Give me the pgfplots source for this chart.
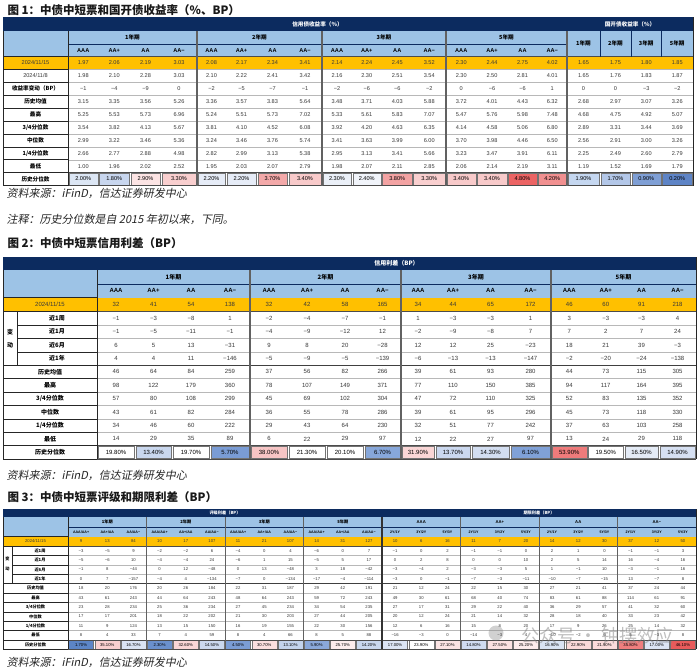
\documentclass[border=0pt]{standalone}
\usepackage{fontspec}
\setmainfont{Noto Sans CJK SC}
\newfontfamily\numf{Liberation Sans}
\newfontfamily\srcf{Noto Sans CJK SC}[FakeSlant=0.2]
\usepackage{pgfplots}
\usepackage{pgfplotstable}
\pgfplotsset{compat=1.18}

\definecolor{navy}{HTML}{0C2B5F}
\definecolor{hdr}{HTML}{9DC3E6}
\definecolor{org}{HTML}{FFC000}
\definecolor{tc}{HTML}{383838}
% table 1 percentile colours
\definecolor{a1}{HTML}{DCE6F4}\definecolor{a2}{HTML}{C8D6EE}\definecolor{a3}{HTML}{FCE4E4}\definecolor{a4}{HTML}{F9CFCF}
\definecolor{a5}{HTML}{E6ECF7}\definecolor{a6}{HTML}{E6ECF7}\definecolor{a7}{HTML}{F3A9A9}\definecolor{a8}{HTML}{F8CACA}
\definecolor{a9}{HTML}{EBF0F8}\definecolor{a10}{HTML}{F1F4FA}\definecolor{a11}{HTML}{F3A3A3}\definecolor{a12}{HTML}{F9CFCF}
\definecolor{a13}{HTML}{F8CACA}\definecolor{a14}{HTML}{F8CACA}\definecolor{a15}{HTML}{EC6464}\definecolor{a16}{HTML}{F19090}
\definecolor{a17}{HTML}{C5D7F0}\definecolor{a18}{HTML}{B3C7E8}\definecolor{a19}{HTML}{7F9FD5}\definecolor{a20}{HTML}{5E84C6}
% table 2
\definecolor{b1}{HTML}{FFFFFF}\definecolor{b2}{HTML}{C9D7EE}\definecolor{b3}{HTML}{FFFFFF}\definecolor{b4}{HTML}{7A9CD5}
\definecolor{b5}{HTML}{F7C5C5}\definecolor{b6}{HTML}{FFFFFF}\definecolor{b7}{HTML}{FFFFFF}\definecolor{b8}{HTML}{87A7DA}
\definecolor{b9}{HTML}{FAD6D6}\definecolor{b10}{HTML}{CBD8EF}\definecolor{b11}{HTML}{D3DEF1}\definecolor{b12}{HTML}{80A1D7}
\definecolor{b13}{HTML}{EF7B7B}\definecolor{b14}{HTML}{FFFFFF}\definecolor{b15}{HTML}{E4EBF6}\definecolor{b16}{HTML}{D6E0F2}
% table 3
\definecolor{c1}{HTML}{5C85C6}\definecolor{c2}{HTML}{F8CFCF}\definecolor{c3}{HTML}{D9E3F3}\definecolor{c4}{HTML}{6A90CC}
\definecolor{c5}{HTML}{F9D6D6}\definecolor{c6}{HTML}{CBD8EE}\definecolor{c7}{HTML}{7B9DD5}\definecolor{c8}{HTML}{FBDFDF}
\definecolor{c9}{HTML}{C3D3EC}\definecolor{c10}{HTML}{8AA8DA}\definecolor{c11}{HTML}{FDEDED}\definecolor{c12}{HTML}{CAD8EE}
\definecolor{c13}{HTML}{DCE5F4}\definecolor{c14}{HTML}{FFFFFF}\definecolor{c15}{HTML}{FBE4E4}\definecolor{c16}{HTML}{D0DCF0}
\definecolor{c17}{HTML}{FBE2E2}\definecolor{c18}{HTML}{FCECEC}\definecolor{c19}{HTML}{D9E3F3}\definecolor{c20}{HTML}{FAD9D9}
\definecolor{c21}{HTML}{FBDCDC}\definecolor{c22}{HTML}{EF7E7E}\definecolor{c23}{HTML}{DCE5F4}\definecolor{c24}{HTML}{E85B5B}

\newcommand\fA{\numf\fontsize{5.6}{6.5}\selectfont}
\newcommand\fAh{\bfseries\fontsize{5.6}{6.5}\selectfont}
\newcommand\fAr{\numf\bfseries\fontsize{5.6}{6.5}\selectfont}
\newcommand\fB{\numf\fontsize{6}{7}\selectfont}
\newcommand\fBh{\bfseries\fontsize{6}{7}\selectfont}
\newcommand\fBr{\numf\bfseries\fontsize{6}{7}\selectfont}
\newcommand\fC{\numf\fontsize{4.2}{5}\selectfont}
\newcommand\fCh{\bfseries\fontsize{4.2}{5}\selectfont}
\newcommand\fCr{\numf\bfseries\fontsize{4.2}{5}\selectfont}
\newcommand\fCs{\numf\bfseries\fontsize{3.6}{4.2}\selectfont}

\pgfplotsset{
  txt/.style 2 args={only marks, mark=none, point meta=explicit symbolic, nodes near coords,
    every node near coord/.style={anchor=center, inner sep=0pt, outer sep=0pt, font=#1, text=#2}},
}
\tikzset{
  gl/.style={draw=black!28, line width=0.4pt},
  bl/.style={draw=black!85, line width=0.5pt},
  tk/.style={draw=black!62, line width=1.1pt},
}
\newcommand\trow[4]{\addplot[txt={#1}{tc}] table[x=x, y expr=#2, meta=#3] {#4};}
\newcommand\prow[4]{\addplot[txt={#1}{black}, nodes near coords={\pgfplotspointmeta\%}] table[x=x, y expr=#2, meta=#3] {#4};}
\newcommand\pc[5]{\addplot[draw=black!55, line width=0.3pt, fill=#5] coordinates {(#1,#3) (#2,#3) (#2,#4) (#1,#4)} -- cycle;}

% Table 1: yields (%) -- one line per column of the chart
\pgfplotstableread{
x      d1   d2   chg  mean max  q3   med  q1   min  pct
83.25  1.97 1.98 −1   3.15 5.25 3.54 2.99 2.66 1.00 2.00
114.25 2.06 2.10 −4   3.35 5.53 3.82 3.22 2.77 1.96 1.80
145.5  2.19 2.28 −9   3.56 5.73 4.13 3.46 2.88 2.02 2.90
179    3.03 3.03 0    5.26 6.96 5.67 5.36 4.98 2.52 3.30
211.5  2.08 2.10 −2   3.36 5.24 3.81 3.24 2.82 1.95 2.20
241.5  2.17 2.22 −5   3.57 5.51 4.10 3.46 2.99 2.03 2.20
272.5  2.34 2.41 −7   3.83 5.73 4.52 3.76 3.13 2.07 3.70
305    3.41 3.42 −1   5.64 7.02 6.08 5.74 5.38 2.79 3.40
337    2.14 2.16 −2   3.48 5.33 3.92 3.41 2.95 1.98 2.30
366.75 2.24 2.30 −6   3.71 5.61 4.20 3.63 3.13 2.07 2.40
397.25 2.45 2.51 −6   4.03 5.83 4.63 3.99 3.41 2.11 3.80
429.25 3.52 3.54 −2   5.88 7.07 6.35 6.00 5.66 2.85 3.30
461.25 2.30 2.30 0    3.72 5.47 4.14 3.70 3.23 2.06 3.40
492    2.44 2.50 −6   4.01 5.76 4.58 3.98 3.47 2.14 3.40
522.5  2.75 2.81 −6   4.43 5.98 5.06 4.46 3.91 2.19 4.80
552.25 4.02 4.01 1    6.32 7.48 6.80 6.50 6.11 3.11 4.20
583.5  1.65 1.65 0    2.68 4.68 2.89 2.56 2.25 1.19 1.90
615.5  1.75 1.76 0    2.97 4.75 3.31 2.91 2.49 1.52 1.70
646.25 1.80 1.83 −3   3.07 4.92 3.44 3.00 2.60 1.69 0.90
677.25 1.85 1.87 −2   3.26 5.07 3.69 3.26 2.79 1.79 0.20
}\tA

% Table 2: credit spreads (BP)
\pgfplotstableread{
x      d   w1  m1  m6  y1   mean max q3  med q1  min pct
116    32  −1  −1  6   4    46   98  57  43  34  14  19.80
153.5  41  −3  −5  5   4    64   122 80  61  46  29  13.40
191    54  −8  −11 13  11   84   179 108 82  60  35  19.70
230    138 1   −1  −31 −146 259  360 299 284 222 89  5.70
269    32  −2  −4  9   −5   37   78  45  36  29  6   38.00
307    42  −4  −9  8   −9   56   107 69  55  43  22  21.30
345    58  −7  −12 20  −5   82   149 102 78  64  29  20.10
382.5  165 −1  12  −28 −139 266  371 304 286 230 97  6.70
418    34  1   −2  12  −6   39   77  47  39  32  12  31.90
453    44  −3  −9  12  −13  61   110 72  61  51  22  13.70
490.5  65  −3  −8  25  −13  93   150 110 95  77  27  14.30
530.5  172 1   7   −23 −147 280  385 325 296 242 97  6.10
569.25 46  3   7   18  −2   44   94  52  45  37  13  53.90
605.75 60  −3  2   21  −20  73   117 83  73  63  24  19.50
641.5  91  −3  7   39  −24  115  164 135 118 103 29  16.50
677.5  218 4   24  −3  −138 305  395 352 330 258 118 14.90
}\tB

% Table 3: rating and term spreads (BP)
\pgfplotstableread{
x      d   w1  m1  m6  y1   mean max q3  med q1  min pct
81.08  9   −3  −5  −1  0    18   43  23  17  11  8   1.70
107.25 13  −5  −6  8   7    20   61  28  17  9   4   35.10
133.42 84  9   10  −44 −157 176  243 234 201 124 33  16.70
159.58 10  −2  −4  0   −4   20   44  25  18  13  7   2.30
185.75 17  −2  −4  12  4    26   64  36  22  15  4   32.60
211.92 107 6   24  −48 −134 184  243 234 202 150 59  14.50
238.08 11  −4  −6  0   −7   22   48  27  21  16  8   4.50
264.25 21  0   1   13  0    31   64  45  30  19  4   30.70
290.42 107 4   15  −48 −134 187  243 234 203 155 66  13.10
316.58 14  −6  −5  3   −17  29   59  34  27  22  8   5.90
342.75 31  0   5   18  −4   42   72  54  44  30  5   25.70
368.92 127 7   17  −42 −114 191  243 235 205 156 88  14.20
395.08 10  −1  0   −3  −3   21   49  27  20  12  −16 17.00
421.25 6   0   2   −4  0    12   30  17  12  6   −3  23.90
447.42 16  2   8   2   −1   24   61  31  24  16  0   27.10
473.58 11  −1  0   −3  −7   22   68  29  21  15  −14 14.80
499.75 7   −1  0   −3  −3   15   40  22  14  8   −3  27.50
525.92 20  0   10  5   −11  30   74  40  32  20  4   25.20
552.08 14  2   2   1   −10  27   83  36  28  17  −10 16.90
578.25 12  1   5   −1  −7   21   61  29  18  9   −2  22.90
604.42 30  0   14  10  −15  41   88  57  40  26  6   21.90
630.58 37  −1  16  −3  13   37   114 41  33  25  5   35.80
656.75 12  −1  −4  −1  −7   24   61  32  23  14  −3  17.00
682.92 50  3   16  16  8    44   91  60  42  32  8   46.10
}\tC

\begin{document}
\begin{tikzpicture}
\begin{axis}[scale only axis, width=700pt, height=668pt,
  xmin=0, xmax=700, ymin=0, ymax=668, y dir=reverse,
  hide axis, clip=false]
\fill[white] (axis cs:0,0) rectangle (axis cs:700,668);

% ---------------- titles and sources
\node[anchor=west, font=\bfseries\fontsize{11.5}{13}\selectfont, text=black!90] at (axis cs:4,10.5) {图 1：中债中短票和国开债收益率（\%、BP）};
\node[anchor=west, font=\srcf\fontsize{11}{13}\selectfont, text=black!85] at (axis cs:3,193) {资料来源：iFinD，信达证券研发中心};
\node[anchor=west, font=\srcf\fontsize{11}{13}\selectfont, text=black!85] at (axis cs:3,219.5) {注释：历史分位数是自 2015 年初以来，下同。};
\node[anchor=west, font=\bfseries\fontsize{11.5}{13}\selectfont, text=black!90] at (axis cs:4,243) {图 2：中债中短票信用利差（BP）};
\node[anchor=west, font=\srcf\fontsize{11}{13}\selectfont, text=black!85] at (axis cs:3,475) {资料来源：iFinD，信达证券研发中心};
\node[anchor=west, font=\bfseries\fontsize{11.5}{13}\selectfont, text=black!90] at (axis cs:4,497) {图 3：中债中短票评级和期限利差（BP）};
\node[anchor=west, font=\srcf\fontsize{11}{13}\selectfont, text=black!85] at (axis cs:3,662) {资料来源：iFinD，信达证券研发中心};

% ================= TABLE 1
\fill[navy] (axis cs:3,17) rectangle (axis cs:693,31);
\fill[hdr] (axis cs:3,31) rectangle (axis cs:693,56.5);
\fill[org] (axis cs:3,56.5) rectangle (axis cs:693,69.4);
\pc{68.8}{97.7}{173.3}{184.8}{a1}\pc{99.3}{129.2}{173.3}{184.8}{a2}\pc{130.8}{160.2}{173.3}{184.8}{a3}\pc{161.8}{196.2}{173.3}{184.8}{a4}
\pc{197.8}{225.2}{173.3}{184.8}{a5}\pc{226.8}{256.2}{173.3}{184.8}{a6}\pc{257.8}{287.2}{173.3}{184.8}{a7}\pc{288.8}{321.2}{173.3}{184.8}{a8}
\pc{322.8}{351.2}{173.3}{184.8}{a9}\pc{352.8}{380.7}{173.3}{184.8}{a10}\pc{382.3}{411.7}{173.3}{184.8}{a11}\pc{413.3}{445.2}{173.3}{184.8}{a12}
\pc{446.8}{475.7}{173.3}{184.8}{a13}\pc{477.3}{506.7}{173.3}{184.8}{a14}\pc{508.3}{536.7}{173.3}{184.8}{a15}\pc{538.3}{566.2}{173.3}{184.8}{a16}
\pc{567.8}{599.2}{173.3}{184.8}{a17}\pc{600.8}{630.2}{173.3}{184.8}{a18}\pc{631.8}{660.7}{173.3}{184.8}{a19}\pc{662.3}{692.2}{173.3}{184.8}{a20}
\pgfplotsinvokeforeach{69.4,82.3,95.2,108.1,121,133.9,146.8,159.7}{\draw[gl] (axis cs:68,#1) -- (axis cs:693,#1);}
\pgfplotsinvokeforeach{56.5,69.4,82.3,95.2,108.1,121,133.9,146.8,159.7,172.6,185.5}{\draw[bl] (axis cs:3,#1) -- (axis cs:68,#1);}
\draw[draw=black!70, line width=0.6pt] (axis cs:68,56.5) -- (axis cs:693,56.5);
\draw[draw=black!70, line width=0.6pt] (axis cs:68,172.6) -- (axis cs:693,172.6);
\draw[draw=black!70, line width=0.6pt] (axis cs:68,185.5) -- (axis cs:693,185.5);
\draw[navy, line width=0.5pt] (axis cs:68,44) -- (axis cs:567,44);
\pgfplotsinvokeforeach{600,631,661.5}{\draw[navy, line width=0.5pt] (axis cs:#1,31) -- (axis cs:#1,56.5);}
\draw[bl] (axis cs:3,31) -- (axis cs:3,185.5);
\draw[bl] (axis cs:68,31) -- (axis cs:68,185.5);
\draw[bl] (axis cs:693,17) -- (axis cs:693,185.5);
\pgfplotsinvokeforeach{197,322,446,567}{\draw[tk] (axis cs:#1,31) -- (axis cs:#1,185.5);}
% header text
\addplot[txt={\fAh}{white}] coordinates {(317.5,24)[信用债收益率（\%）] (630,24)[国开债收益率（\%）]};
\addplot[txt={\fAh}{black}] coordinates {(132.5,37.5)[1年期] (259.5,37.5)[2年期] (384,37.5)[3年期] (506.5,37.5)[5年期]
  (583.5,43.75)[1年期] (615.5,43.75)[2年期] (646.25,43.75)[3年期] (677.25,43.75)[5年期]};
\addplot[txt={\fAr}{black}] coordinates {(83.25,50.25)[AAA] (114.25,50.25)[AA+] (145.5,50.25)[AA] (179,50.25)[AA−]
  (211.5,50.25)[AAA] (241.5,50.25)[AA+] (272.5,50.25)[AA] (305,50.25)[AA−]
  (337,50.25)[AAA] (366.75,50.25)[AA+] (397.25,50.25)[AA] (429.25,50.25)[AA−]
  (461.25,50.25)[AAA] (492,50.25)[AA+] (522.5,50.25)[AA] (552.25,50.25)[AA−]};
% row labels
\addplot[txt={\fA}{tc}] coordinates {(35.5,62.95)[2024/11/15] (35.5,75.85)[2024/11/8]};
\addplot[txt={\fAh}{black}] coordinates {(35.5,88.75)[收益率变动（BP）] (35.5,101.65)[历史均值] (35.5,114.55)[最高] (35.5,127.45)[3/4分位数]
  (35.5,140.35)[中位数] (35.5,153.25)[1/4分位数] (35.5,166.15)[最低] (35.5,179.05)[历史分位数]};
% values
\trow{\fA}{62.95}{d1}{\tA}
\trow{\fA}{75.85}{d2}{\tA}
\trow{\fA}{88.75}{chg}{\tA}
\trow{\fA}{101.65}{mean}{\tA}
\trow{\fA}{114.55}{max}{\tA}
\trow{\fA}{127.45}{q3}{\tA}
\trow{\fA}{140.35}{med}{\tA}
\trow{\fA}{153.25}{q1}{\tA}
\trow{\fA}{166.15}{min}{\tA}
\prow{\fA}{179.05}{pct}{\tA}

% ================= TABLE 2
\fill[navy] (axis cs:3,257) rectangle (axis cs:696,270);
\fill[hdr] (axis cs:3,270) rectangle (axis cs:696,297.5);
\fill[org] (axis cs:3,297.5) rectangle (axis cs:696,311.6);
\pc{97.8}{134.2}{446.3}{458.3}{b1}\pc{135.8}{171.2}{446.3}{458.3}{b2}\pc{172.8}{209.2}{446.3}{458.3}{b3}\pc{210.8}{249.2}{446.3}{458.3}{b4}
\pc{250.8}{287.2}{446.3}{458.3}{b5}\pc{288.8}{325.2}{446.3}{458.3}{b6}\pc{326.8}{363.2}{446.3}{458.3}{b7}\pc{364.8}{400.2}{446.3}{458.3}{b8}
\pc{401.8}{434.2}{446.3}{458.3}{b9}\pc{435.8}{470.2}{446.3}{458.3}{b10}\pc{471.8}{509.2}{446.3}{458.3}{b11}\pc{510.8}{550.2}{446.3}{458.3}{b12}
\pc{551.8}{586.7}{446.3}{458.3}{b13}\pc{588.3}{623.2}{446.3}{458.3}{b14}\pc{624.8}{658.2}{446.3}{458.3}{b15}\pc{659.8}{695.2}{446.3}{458.3}{b16}
\pgfplotsinvokeforeach{325,338.4,351.8,378.6,392,405.4,418.8,432.2}{\draw[gl] (axis cs:97,#1) -- (axis cs:696,#1);}
\pgfplotsinvokeforeach{325,338.4,351.8}{\draw[bl] (axis cs:17,#1) -- (axis cs:97,#1);}
\pgfplotsinvokeforeach{297.5,311.6,365.2,378.6,392,405.4,418.8,432.2,445.6,459}{\draw[bl] (axis cs:3,#1) -- (axis cs:97,#1);}
\draw[draw=black!70, line width=0.6pt] (axis cs:97,311.6) -- (axis cs:696,311.6);
\draw[draw=black!75, line width=1pt] (axis cs:97,365.2) -- (axis cs:696,365.2);
\draw[draw=black!70, line width=0.6pt] (axis cs:97,445.6) -- (axis cs:696,445.6);
\draw[draw=black!70, line width=0.6pt] (axis cs:97,459) -- (axis cs:696,459);
\draw[navy, line width=0.5pt] (axis cs:97,284) -- (axis cs:696,284);
\draw[bl] (axis cs:3,270) -- (axis cs:3,459);
\draw[bl] (axis cs:17,311.6) -- (axis cs:17,365.2);
\draw[bl] (axis cs:97,270) -- (axis cs:97,459);
\draw[bl] (axis cs:696,257) -- (axis cs:696,459);
\pgfplotsinvokeforeach{250,401,551}{\draw[tk] (axis cs:#1,270) -- (axis cs:#1,459);}
\addplot[txt={\fBh}{white}] coordinates {(396.5,263.5)[信用利差（BP）]};
\addplot[txt={\fBh}{black}] coordinates {(173.5,277)[1年期] (325.5,277)[2年期] (476,277)[3年期] (623.5,277)[5年期]};
\addplot[txt={\fBr}{black}] coordinates {(116,290.75)[AAA] (153.5,290.75)[AA+] (191,290.75)[AA] (230,290.75)[AA−]
  (269,290.75)[AAA] (307,290.75)[AA+] (345,290.75)[AA] (382.5,290.75)[AA−]
  (418,290.75)[AAA] (453,290.75)[AA+] (490.5,290.75)[AA] (530.5,290.75)[AA−]
  (569.25,290.75)[AAA] (605.75,290.75)[AA+] (641.5,290.75)[AA] (677.5,290.75)[AA−]};
\addplot[txt={\fB}{tc}] coordinates {(50,304.55)[2024/11/15]};
\addplot[txt={\fBh}{black}] coordinates {(10,331.7)[变] (10,345.1)[动]
  (57,318.3)[近1周] (57,331.7)[近1月] (57,345.1)[近6月] (57,358.5)[近1年]
  (50,371.9)[历史均值] (50,385.3)[最高] (50,398.7)[3/4分位数] (50,412.1)[中位数]
  (50,425.5)[1/4分位数] (50,438.9)[最低] (50,452.3)[历史分位数]};
\trow{\fB}{304.55}{d}{\tB}
\trow{\fB}{318.3}{w1}{\tB}
\trow{\fB}{331.7}{m1}{\tB}
\trow{\fB}{345.1}{m6}{\tB}
\trow{\fB}{358.5}{y1}{\tB}
\trow{\fB}{371.9}{mean}{\tB}
\trow{\fB}{385.3}{max}{\tB}
\trow{\fB}{398.7}{q3}{\tB}
\trow{\fB}{412.1}{med}{\tB}
\trow{\fB}{425.5}{q1}{\tB}
\trow{\fB}{438.9}{min}{\tB}
\prow{\fB}{452.3}{pct}{\tB}

% ================= TABLE 3
\fill[navy] (axis cs:3,509) rectangle (axis cs:696,517);
\fill[hdr] (axis cs:3,517) rectangle (axis cs:696,536.5);
\fill[org] (axis cs:3,536.5) rectangle (axis cs:696,546);
\pc{68.6}{93.6}{640.6}{648.8}{c1}\pc{94.8}{119.7}{640.6}{648.8}{c2}\pc{120.9}{145.9}{640.6}{648.8}{c3}
\pc{147.1}{172.1}{640.6}{648.8}{c4}\pc{173.3}{198.2}{640.6}{648.8}{c5}\pc{199.4}{224.4}{640.6}{648.8}{c6}
\pc{225.6}{250.6}{640.6}{648.8}{c7}\pc{251.8}{276.7}{640.6}{648.8}{c8}\pc{277.9}{302.9}{640.6}{648.8}{c9}
\pc{304.1}{329.1}{640.6}{648.8}{c10}\pc{330.3}{355.2}{640.6}{648.8}{c11}\pc{356.4}{381.4}{640.6}{648.8}{c12}
\pc{382.6}{407.6}{640.6}{648.8}{c13}\pc{408.8}{433.7}{640.6}{648.8}{c14}\pc{434.9}{459.9}{640.6}{648.8}{c15}
\pc{461.1}{486.1}{640.6}{648.8}{c16}\pc{487.3}{512.2}{640.6}{648.8}{c17}\pc{513.4}{538.4}{640.6}{648.8}{c18}
\pc{539.6}{564.6}{640.6}{648.8}{c19}\pc{565.8}{590.7}{640.6}{648.8}{c20}\pc{591.9}{616.9}{640.6}{648.8}{c21}
\pc{618.1}{643.1}{640.6}{648.8}{c22}\pc{644.3}{669.2}{640.6}{648.8}{c23}\pc{670.4}{695.4}{640.6}{648.8}{c24}
\pgfplotsinvokeforeach{555.4,564.8,574.2,593,602.4,611.8,621.2,630.6}{\draw[gl] (axis cs:68,#1) -- (axis cs:696,#1);}
\pgfplotsinvokeforeach{555.4,564.8,574.2}{\draw[bl] (axis cs:12,#1) -- (axis cs:68,#1);}
\pgfplotsinvokeforeach{536.5,546,583.6,593,602.4,611.8,621.2,630.6,640,649.4}{\draw[bl] (axis cs:3,#1) -- (axis cs:68,#1);}
\draw[draw=black!70, line width=0.5pt] (axis cs:68,546) -- (axis cs:696,546);
\draw[draw=black!75, line width=0.9pt] (axis cs:68,583.6) -- (axis cs:696,583.6);
\draw[draw=black!70, line width=0.5pt] (axis cs:68,640) -- (axis cs:696,640);
\draw[draw=black!70, line width=0.5pt] (axis cs:68,649.4) -- (axis cs:696,649.4);
\draw[navy, line width=0.4pt] (axis cs:68,527) -- (axis cs:696,527);
\draw[bl] (axis cs:3,517) -- (axis cs:3,649.4);
\draw[bl] (axis cs:12,546) -- (axis cs:12,583.6);
\draw[bl] (axis cs:68,517) -- (axis cs:68,649.4);
\draw[bl] (axis cs:696,509) -- (axis cs:696,649.4);
\pgfplotsinvokeforeach{146.5,225,303.5,460.5,539,617.5}{\draw[draw=black!62, line width=0.9pt] (axis cs:#1,517) -- (axis cs:#1,649.4);}
\draw[draw=black!80, line width=1.1pt] (axis cs:382,517) -- (axis cs:382,649.4);
\addplot[txt={\fCh}{white}] coordinates {(225,513)[评级利差（BP）] (539,513)[期限利差（BP）]};
\addplot[txt={\fCh}{black}] coordinates {(107.25,522)[1年期] (185.75,522)[2年期] (264.25,522)[3年期] (342.75,522)[5年期]};
\addplot[txt={\fCr}{black}] coordinates {(421.25,522)[AAA] (499.75,522)[AA+] (578.25,522)[AA] (656.75,522)[AA−]};
\addplot[txt={\fCs}{black}] coordinates {
  (81.08,531.75)[AAA/AA+] (107.25,531.75)[AA+/AA] (133.42,531.75)[AA/AA−]
  (159.58,531.75)[AAA/AA+] (185.75,531.75)[AA+/AA] (211.92,531.75)[AA/AA−]
  (238.08,531.75)[AAA/AA+] (264.25,531.75)[AA+/AA] (290.42,531.75)[AA/AA−]
  (316.58,531.75)[AAA/AA+] (342.75,531.75)[AA+/AA] (368.92,531.75)[AA/AA−]
  (395.08,531.75)[2Y/1Y] (421.25,531.75)[3Y/2Y] (447.42,531.75)[5Y/3Y]
  (473.58,531.75)[2Y/1Y] (499.75,531.75)[3Y/2Y] (525.92,531.75)[5Y/3Y]
  (552.08,531.75)[2Y/1Y] (578.25,531.75)[3Y/2Y] (604.42,531.75)[5Y/3Y]
  (630.58,531.75)[2Y/1Y] (656.75,531.75)[3Y/2Y] (682.92,531.75)[5Y/3Y]};
\addplot[txt={\fC}{tc}] coordinates {(35.5,541.25)[2024/11/15]};
\addplot[txt={\fCh}{black}] coordinates {(7.5,559)[变] (7.5,568.5)[动]
  (40,550.7)[近1周] (40,560.1)[近1月] (40,569.5)[近6月] (40,578.9)[近1年]
  (35.5,588.3)[历史均值] (35.5,597.7)[最高] (35.5,607.1)[3/4分位数] (35.5,616.5)[中位数]
  (35.5,625.9)[1/4分位数] (35.5,635.3)[最低] (35.5,644.7)[历史分位数]};
\trow{\fC}{541.25}{d}{\tC}
\trow{\fC}{550.7}{w1}{\tC}
\trow{\fC}{560.1}{m1}{\tC}
\trow{\fC}{569.5}{m6}{\tC}
\trow{\fC}{578.9}{y1}{\tC}
\trow{\fC}{588.3}{mean}{\tC}
\trow{\fC}{597.7}{max}{\tC}
\trow{\fC}{607.1}{q3}{\tC}
\trow{\fC}{616.5}{med}{\tC}
\trow{\fC}{625.9}{q1}{\tC}
\trow{\fC}{635.3}{min}{\tC}
\prow{\fC}{644.7}{pct}{\tC}

% watermark
\node[circle, fill=black!45, opacity=0.4, minimum size=15pt, inner sep=0pt] at (axis cs:496,633) {};
\node[anchor=west, font=\fontsize{18}{19}\selectfont, text=black!50, opacity=0.5] at (axis cs:518,636) {公众号 · 钟摆效应};
\end{axis}
\end{tikzpicture}
\end{document}
